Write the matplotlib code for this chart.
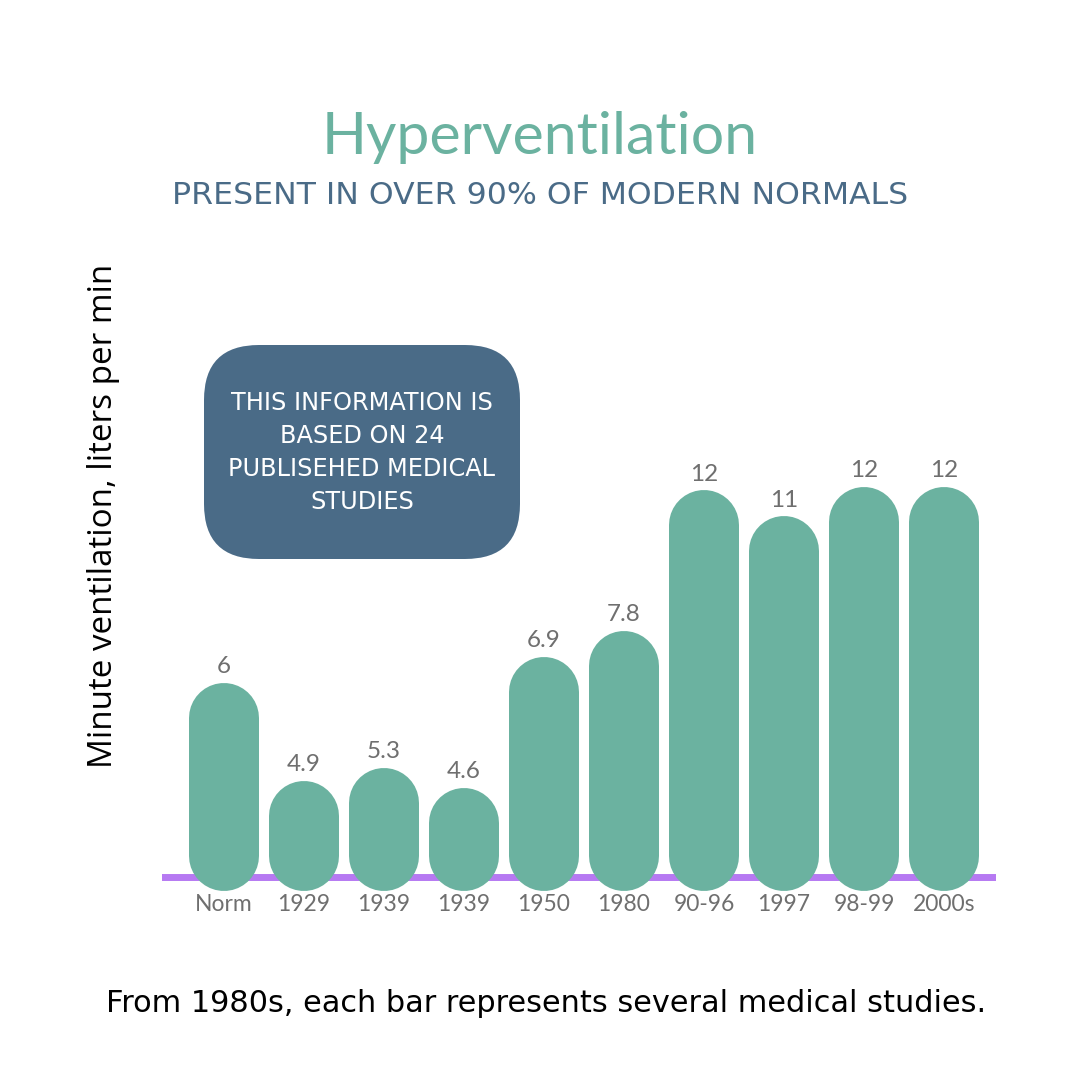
import matplotlib
matplotlib.use("Agg")
import matplotlib.pyplot as plt
from matplotlib.patches import FancyBboxPatch

categories = ["Norm", "1929", "1939", "1939", "1950", "1980", "90-96", "1997", "98-99", "2000s"]
value_labels = ["6", "4.9", "5.3", "4.6", "6.9", "7.8", "12", "11", "12", "12"]
# bar lengths as they are drawn (the 1929/1939 bars are shorter than their printed numbers)
bar_heights = [6.0, 3.0, 3.4, 2.8, 6.8, 7.6, 11.9, 11.1, 12.0, 12.0]

TEAL = "#6bb2a0"
SLATE = "#4a6b87"
PURPLE = "#b679f2"
GREY = "#6f6f6f"

W = 1080


def fx(px):
    return px / W


def fy(px):
    return 1 - px / W


def fit(t, target, vertical=False):
    r = fig.canvas.get_renderer()
    ext = t.get_window_extent(r)
    size = ext.height if vertical else ext.width
    t.set_fontsize(t.get_fontsize() * target / size)


fig = plt.figure(figsize=(10.8, 10.8), dpi=100)
fig.patch.set_facecolor("white")

# axes: x from 162 to 996 px, y from 300 to 891 px
ax = fig.add_axes([fx(162), fy(891), fx(996 - 162), (891 - 300) / W])
ax.set_xlim(-0.775, 9.65)
ax.set_ylim(-0.367, 17.72)
for s in ax.spines.values():
    s.set_visible(False)
ax.set_yticks([])

px_per_unit = 591 / (17.72 + 0.367)
radius = 35 / px_per_unit
bottom = -0.367 + radius

ax.axhline(0.06, color=PURPLE, lw=5, zorder=1)

for i, h in enumerate(bar_heights):
    ax.plot([i, i], [bottom, h - radius], color=TEAL, lw=70 * 0.72,
            solid_capstyle="round", zorder=2, clip_on=False)
    ax.annotate(value_labels[i], (i, h), xytext=(0, 4), textcoords="offset points",
                ha="center", va="bottom", color=GREY, fontsize=17.5, family="Lato")

ax.set_xticks(range(len(categories)))
ax.set_xticklabels(categories, color=GREY, fontsize=16.5, family="Lato")
ax.tick_params(axis="x", length=0, pad=2)

# headings
title = fig.text(fx(540), fy(138), "Hyperventilation", ha="center", va="center",
                 color=TEAL, fontsize=38, family="Lato")
sub = fig.text(fx(540), fy(195), "PRESENT IN OVER 90% OF MODERN NORMALS", ha="center",
               va="center", color=SLATE, fontsize=20, family="DejaVu Sans")

# info box
box = FancyBboxPatch((fx(204), fy(559)), fx(316), fx(214),
                     boxstyle="round,pad=0,rounding_size=%f" % fx(55),
                     transform=fig.transFigure, facecolor=SLATE, edgecolor="none")
fig.add_artist(box)
box_lines = ["THIS INFORMATION IS", "BASED ON 24", "PUBLISEHED MEDICAL", "STUDIES"]
box_texts = []
for k, line in enumerate(box_lines):
    box_texts.append(fig.text(fx(362), fy(410 + 33 * k), line, ha="center", va="baseline",
                              color="white", fontsize=17, family="DejaVu Sans"))

ylab = fig.text(fx(104), fy(516), "Minute ventilation, liters per min", rotation=90,
                ha="center", va="center", color="black", fontsize=22, family="Open Sans")

caption = fig.text(fx(546), fy(1003), "From 1980s, each bar represents several medical studies.",
                   ha="center", va="center", color="black", fontsize=23,
                   family=["Liberation Sans Narrow", "DejaVu Sans"])

fit(title, 436)
fit(sub, 734)
fit(box_texts[0], 262)
for t in box_texts[1:]:
    t.set_fontsize(box_texts[0].get_fontsize())
fit(ylab, 503, vertical=True)
fit(caption, 883)

fig.savefig("out.png", dpi=100, facecolor="white")
